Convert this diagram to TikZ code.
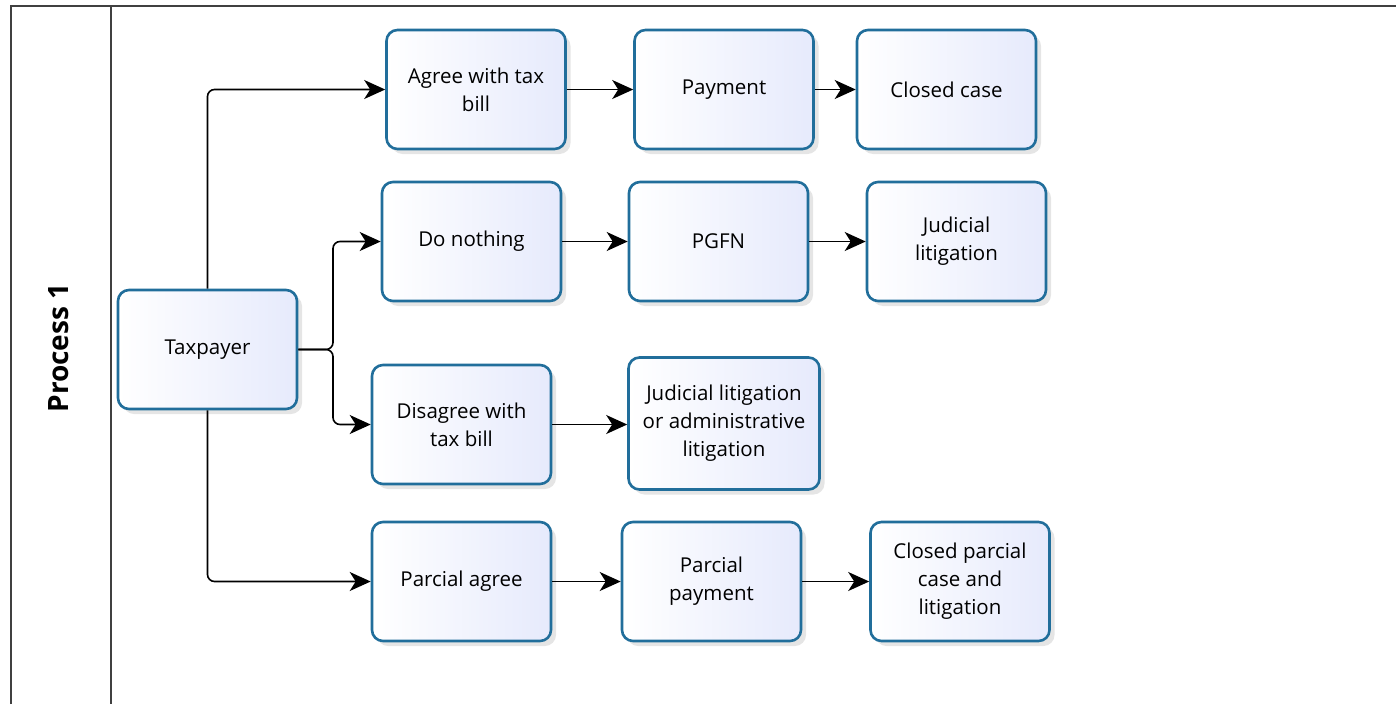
\documentclass[tikz,border=0pt]{standalone}
\usepackage{fontspec}
\setmainfont{Open Sans}
\usetikzlibrary{arrows.meta,shadows}
\definecolor{boxborder}{RGB}{33,110,155}
\definecolor{boxfill}{RGB}{230,234,252}
\definecolor{framecol}{RGB}{64,64,64}
\tikzset{
  task/.style={draw=boxborder, line width=2.6pt, rounded corners=11pt,
    left color=white, right color=boxfill,
    drop shadow={opacity=0.2, shadow xshift=5pt, shadow yshift=-5pt},
    minimum width=179pt, minimum height=119pt, align=center,
    font=\fontsize{20.5}{28}\selectfont, inner sep=2pt},
  flow/.style={draw=black, line width=1.6pt, rounded corners=7pt,
    -{Stealth[length=21pt,width=19pt,inset=6pt]}},
  frame/.style={draw=framecol, line width=2pt}
}
\begin{document}
\begin{tikzpicture}[x=1pt,y=-1pt]
\useasboundingbox (0,0) rectangle (1396,704);
\fill[white] (0,0) rectangle (1396,704);
% pool frame
\draw[frame] (11,704) -- (11,6) -- (1396,6);
\draw[frame] (111,6) -- (111,704);
\node[rotate=90, font=\bfseries\fontsize{28}{32}\selectfont] (lane) at (59,348) {Process 1};
% nodes
\node[task] (tax) at (207.5,349.5) {Taxpayer};
\node[task] (agree) at (476,89.5) {Agree with tax\\bill};
\node[task] (pay) at (724,89.5) {Payment};
\node[task] (closed) at (946.5,89.5) {Closed case};
\node[task] (nothing) at (471.5,241.5) {Do nothing};
\node[task] (pgfn) at (718.5,241.5) {PGFN};
\node[task] (jud) at (956.5,241.5) {Judicial\\litigation};
\node[task] (dis) at (461.5,424.5) {Disagree with\\tax bill};
\node[task, minimum width=191pt, minimum height=132pt] (judadm) at (724,423.5) {Judicial litigation\\or administrative\\litigation};
\node[task] (parc) at (461.5,581.5) {Parcial agree};
\node[task] (ppay) at (711.5,581.5) {Parcial\\payment};
\node[task] (pclosed) at (960,581.5) {Closed parcial\\case and\\litigation};
% connectors
\draw[flow] (tax.north) |- (agree.west);
\draw[flow] (agree) -- (pay);
\draw[flow] (pay) -- (closed);
\draw[flow] (tax.east) -- (333,349.5) |- (nothing.west);
\draw[flow] (tax.east) -- (333,349.5) |- (dis.west);
\draw[flow] (nothing) -- (pgfn);
\draw[flow] (pgfn) -- (jud);
\draw[flow] (dis) -- (dis.east -| judadm.west);
\draw[flow] (tax.south) |- (parc.west);
\draw[flow] (parc) -- (ppay);
\draw[flow] (ppay) -- (pclosed);
\end{tikzpicture}
\end{document}
